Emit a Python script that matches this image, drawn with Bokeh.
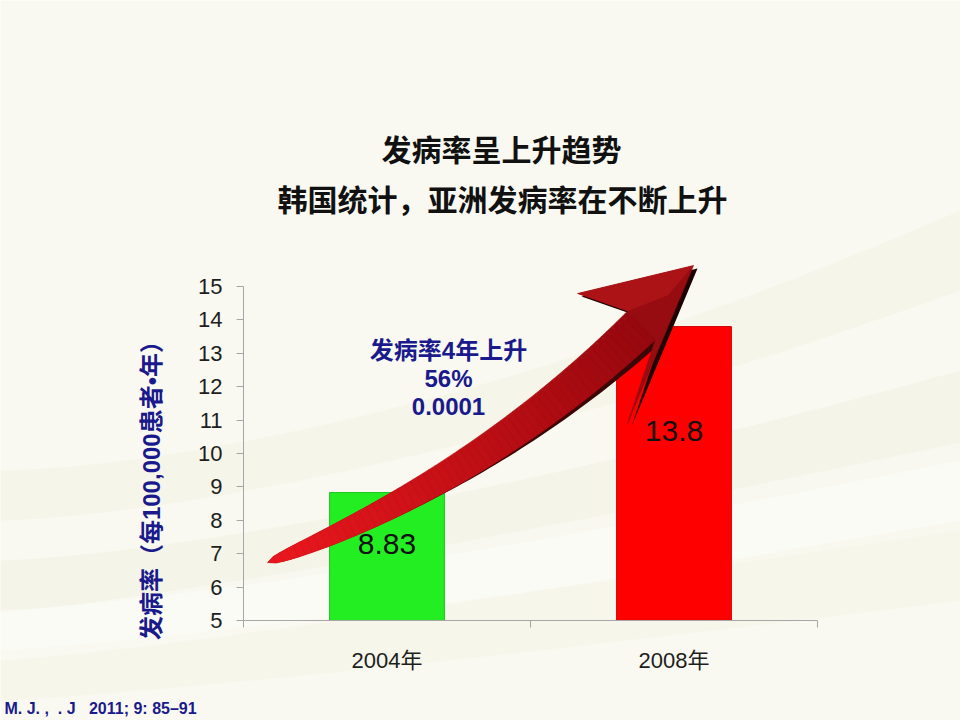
import numpy as np
from bokeh.plotting import figure
from bokeh.models import Range1d, FixedTicker, Label
from bokeh.embed import file_html
from bokeh.resources import INLINE

# ---------------- data ----------------
title_1 = "发病率呈上升趋势"
title_2 = "韩国统计，亚洲发病率在不断上升"
categories = ["2004年", "2008年"]
rates = [8.83, 13.8]
rate_labels = ["8.83", "13.8"]
y_ticks = [5, 6, 7, 8, 9, 10, 11, 12, 13, 14, 15]
y_label = "发病率（每100,000患者•年）"
note_lines = ["发病率4年上升", "56%", "0.0001"]
citation = "M. J. ,  . J   2011; 9: 85–91"

# ---------------- style / layout ----------------
bar_colors = ["#22ee22", "#ff0000"]
bar_edges = ["#1bc41b", "#d00000"]
BG = "#f9f9f1"
NAVY = "#1a1a8c"
W, H = 960, 720
AX_X0, AX_X1 = 243.0, 817.0      # pixel span of the category axis
AX_Y0, AX_Y1 = 620.0, 286.0      # pixel span of the value axis (5 .. 15)
NCAT = len(categories)
PX_PER_X = (AX_X1 - AX_X0) / NCAT
PX_PER_Y = (AX_Y0 - AX_Y1) / (y_ticks[-1] - y_ticks[0])


def page_to_data(px, py):
    px = np.asarray(px, dtype=float)
    py = np.asarray(py, dtype=float)
    return (px - AX_X0) / PX_PER_X, y_ticks[0] + (AX_Y0 - py) / PX_PER_Y


xr0, yr0 = page_to_data(0, H)
xr1, yr1 = page_to_data(W, 0)

p = figure(width=W, height=H, output_backend="svg", toolbar_location=None,
           x_range=Range1d(float(xr0), float(xr1)), y_range=Range1d(float(yr0), float(yr1)),
           min_border=0, min_border_left=0, min_border_right=0,
           min_border_top=0, min_border_bottom=0)
p.background_fill_color = BG
p.border_fill_color = BG
p.outline_line_color = None
p.grid.visible = False

centers = np.arange(NCAT) + 0.5
bounds = list(np.arange(NCAT + 1).astype(float))

# ---------------- background swooshes (decoration) ----------------
def band(top_fn, bot_fn, color, alpha):
    sx_ = np.linspace(0, W, 41)
    xs_t, ys_t = page_to_data(sx_, top_fn(sx_ / W))
    xs_b, ys_b = page_to_data(sx_, bot_fn(sx_ / W))
    p.patch(list(xs_t) + list(xs_b[::-1]), list(ys_t) + list(ys_b[::-1]),
            fill_color=color, fill_alpha=alpha, line_color=None)

band(lambda u: 470 - 260 * u ** 1.6, lambda u: 520 - 230 * u ** 1.5, "#e6ead0", 0.22)
band(lambda u: 560 - 190 * u ** 1.4, lambda u: 610 - 150 * u ** 1.3, "#e6ead0", 0.25)
band(lambda u: 612 - 170 * u ** 1.2, lambda u: 650 - 120 * u ** 1.2, "#ffffff", 0.35)
band(lambda u: 660 - 140 * u ** 1.2, lambda u: 700 - 100 * u ** 1.2, "#eceed8", 0.22)

# ---------------- axes (pinned inside the frame) ----------------
yax = p.yaxis[0]
yax.fixed_location = 0.0
yax.bounds = (y_ticks[0], y_ticks[-1])
yax.ticker = FixedTicker(ticks=y_ticks)
yax.axis_line_color = "#a6a6a6"
yax.major_tick_line_color = "#a6a6a6"
yax.major_tick_out = 7
yax.major_tick_in = 0
yax.minor_tick_line_color = None
yax.major_label_text_font = "Liberation Sans"
yax.major_label_text_font_size = "22px"
yax.major_label_text_color = "#1e1e1e"
yax.major_label_standoff = 14

xax = p.xaxis[0]
xax.fixed_location = float(y_ticks[0])
xax.bounds = (0, NCAT)
xax.ticker = FixedTicker(ticks=list(centers), minor_ticks=bounds)
xax.major_label_overrides = {float(c): cat for c, cat in zip(centers, categories)}
xax.axis_line_color = "#a6a6a6"
xax.major_tick_line_color = None
xax.major_tick_out = 0
xax.major_tick_in = 0
xax.minor_tick_line_color = "#a6a6a6"
xax.minor_tick_out = 7
xax.minor_tick_in = 0
xax.major_label_text_font = "Liberation Sans, Noto Sans CJK SC"
xax.major_label_text_font_size = "22px"
xax.major_label_text_color = "#1e1e1e"
xax.major_label_standoff = 20

# bars
p.vbar(x=centers, top=rates, bottom=y_ticks[0], width=0.4,
       fill_color=bar_colors, line_color=bar_edges, line_width=1)

# ---------------- decorative curved arrow ----------------
P0 = np.array([267.0, 562.0])
P1 = np.array([480.0, 480.0])
P2 = np.array([641.0, 325.0])
t = np.linspace(0, 1, 61)
cen = ((1 - t) ** 2)[:, None] * P0 + (2 * (1 - t) * t)[:, None] * P1 + (t ** 2)[:, None] * P2
der = (2 * (1 - t))[:, None] * (P1 - P0) + (2 * t)[:, None] * (P2 - P1)
der = der / np.linalg.norm(der, axis=1)[:, None]
nup = np.stack([der[:, 1], -der[:, 0]], axis=1)
wid = 40.0 * t ** 0.42
upper = cen + (wid / 2)[:, None] * nup
lower = cen - (wid / 2)[:, None] * nup

head = np.array([upper[-1], [577, 293], [693, 265], [627, 423], lower[-1]])

# shadows: head offset, shaft shadow tapering along the lower edge
sh = np.array([4.0, 3.0])
shadow_head = head + sh
hx, hy = page_to_data(shadow_head[:, 0], shadow_head[:, 1])
p.patch(hx, hy, fill_color="#1e0202", line_color=None)
ramp = np.clip((t - 0.3) / 0.7, 0, 1) ** 1.2
shaft_sh = np.vstack([upper + sh * ramp[:, None], (lower + sh * ramp[:, None] * 1.2)[::-1]])
sx, sy = page_to_data(shaft_sh[:, 0], shaft_sh[:, 1])
p.patch(sx, sy, fill_color="#3a0606", line_color=None)

c_start = np.array([236, 24, 30])
c_end = np.array([150, 8, 14])
xs, ys, cols = [], [], []
for i in range(len(t) - 1):
    quad = np.array([upper[i], upper[i + 1], lower[i + 1], lower[i]])
    qx, qy = page_to_data(quad[:, 0], quad[:, 1])
    xs.append(list(qx))
    ys.append(list(qy))
    f = (t[i] + t[i + 1]) / 2
    c = (c_start * (1 - f) + c_end * f).astype(int)
    cols.append("#%02x%02x%02x" % tuple(c))
p.patches(xs, ys, fill_color=cols, line_color=cols, line_width=0.6)

hx, hy = page_to_data(head[:, 0], head[:, 1])
p.patch(hx, hy, fill_color="#960c10", line_color="#960c10", line_width=0.6)
facet = np.array([upper[-1], [577, 293], [693, 265], [(641 + 693) / 2, (325 + 265) / 2]])
fx, fy = page_to_data(facet[:, 0], facet[:, 1])
p.patch(fx, fy, fill_color="#ac1317", line_color=None)

# ---------------- texts ----------------
def add_label(text, px, py, size, color, font, style="normal", align="center", angle=0.0):
    x, y = page_to_data(px, py)
    p.add_layout(Label(x=float(x), y=float(y), text=text, text_font=font,
                       text_font_size=size, text_color=color, text_font_style=style,
                       text_align=align, text_baseline="middle", angle=angle))


CJK = "Noto Sans CJK SC"
MIX = "Liberation Sans, Noto Sans CJK SC"
add_label(title_1, 501, 147, "30px", "#111111", CJK, "bold")
add_label(title_2, 502, 197, "30px", "#111111", CJK, "bold")
add_label(y_label, 151, 484, "24px", NAVY, MIX, "bold", angle=np.pi / 2)
add_label(citation.replace("  ", "\u00a0\u00a0"), 4, 708, "16px", NAVY,
          "Liberation Sans", "bold", align="left")

for line, py in zip(note_lines, [350, 378, 406]):
    add_label(line, 448, py, "24px", NAVY, MIX, "bold")

drops = [1.55, 3.13]
for c, r, txt, d in zip(centers, rates, rate_labels, drops):
    p.add_layout(Label(x=float(c), y=r - d, text=txt, text_font="Liberation Sans",
                       text_font_size="30px", text_color="#111111",
                       text_align="center", text_baseline="middle"))

open("out.html", "w").write(file_html(p, INLINE))
